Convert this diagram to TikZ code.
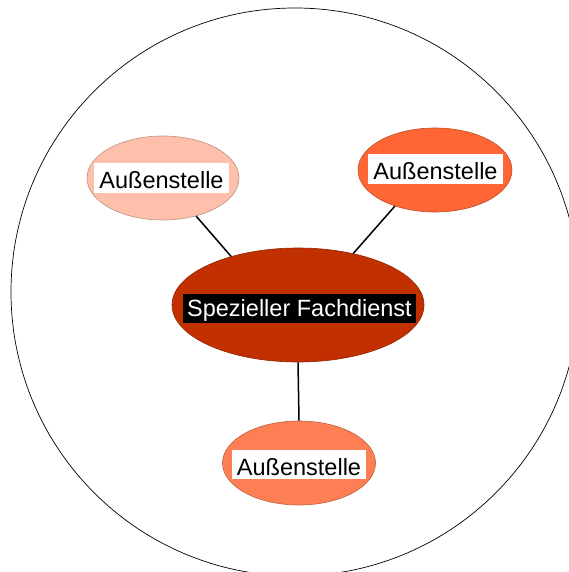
\documentclass[tikz,border=0pt]{standalone}
\usepackage{fontspec}
\setmainfont{Liberation Sans}
\usetikzlibrary{shapes.geometric}
\definecolor{cLight}{HTML}{FEC0AA}
\definecolor{cRight}{HTML}{FF6633}
\definecolor{cCenter}{HTML}{C33000}
\definecolor{cBottom}{HTML}{FF7F55}
\tikzset{
  blob/.style={ellipse, inner sep=0pt, fill=#1, draw=#1!75!black, line width=0.6pt},
  tag/.style={fill=white, text=black, font=\fontsize{23.5}{28}\selectfont,
    inner xsep=5pt, inner ysep=0pt, text height=25pt, text depth=4pt},
  maintag/.style={fill=black, text=white, font=\fontsize{23.5}{28}\selectfont,
    inner xsep=4.5pt, inner ysep=0pt, text height=22pt, text depth=7pt},
  link/.style={line width=1.5pt, black}
}
\begin{document}
\begin{tikzpicture}[x=1pt,y=-1pt]
\useasboundingbox (0,0) rectangle (569,572);
\begin{scope}
\clip (0,0) rectangle (569,572);
\draw[line width=0.7pt] (295,292) circle[radius=284];
\end{scope}
\node[blob=cLight, minimum width=152pt, minimum height=84pt] (l) at (163,178) {};
\node[blob=cRight, minimum width=154pt, minimum height=84pt] (r) at (435,170) {};
\node[blob=cCenter, minimum width=252pt, minimum height=114pt] (c) at (298,305) {};
\node[blob=cBottom, minimum width=153pt, minimum height=84pt] (b) at (299,463) {};
\draw[link] (l.-49) -- (c.144);
\draw[link] (r.-138) -- (c.43);
\draw[link] (c.south) -- (b.north);
\node[tag] (lt) at (161.5,178) {Außenstelle};
\node[tag] (rt) at (435.5,169) {Außenstelle};
\node[tag] (bt) at (299,464.5) {Außenstelle};
\node[maintag] (ct) at (299.5,308.5) {Spezieller Fachdienst};
\end{tikzpicture}
\end{document}
